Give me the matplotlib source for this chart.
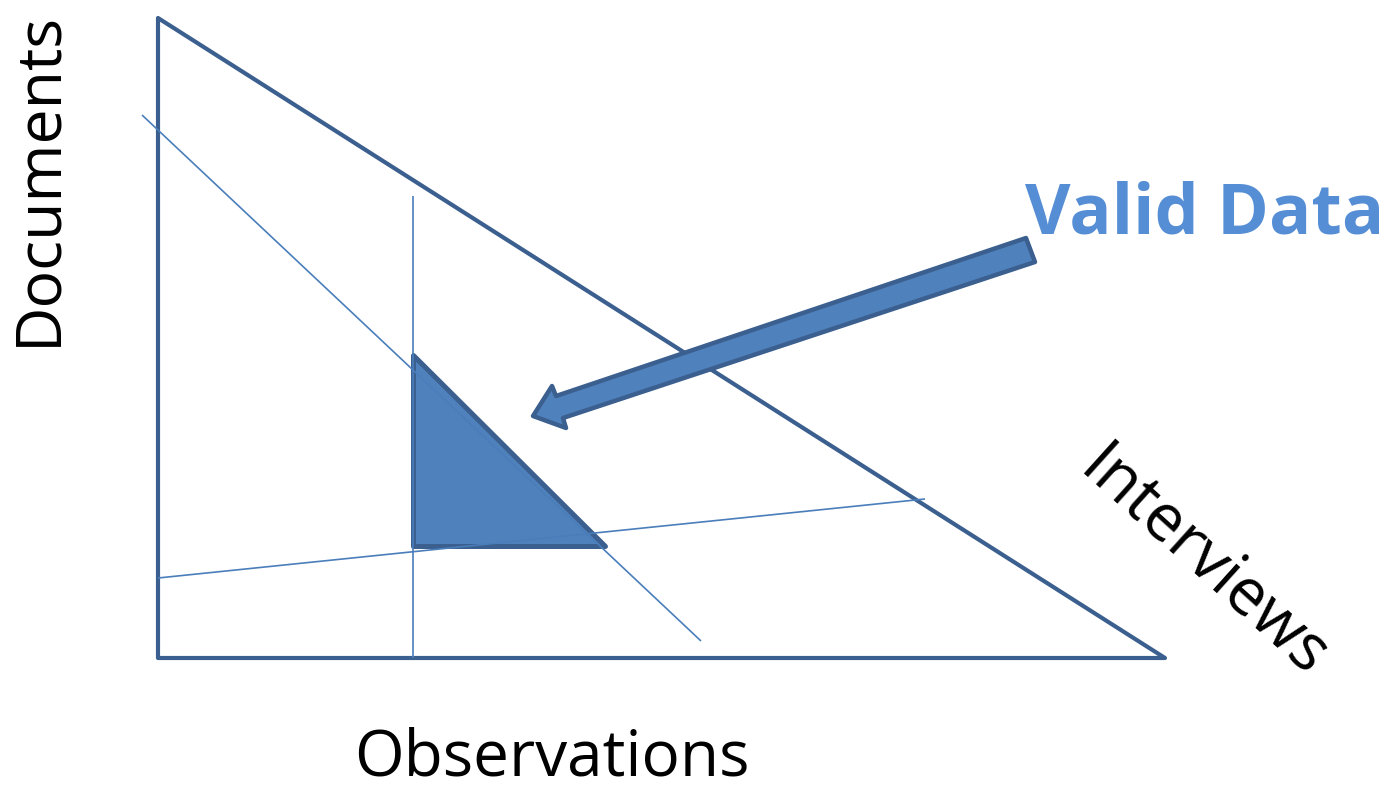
import matplotlib
matplotlib.use("Agg")
import matplotlib.pyplot as plt
from matplotlib.patches import Polygon

W, H = 1399, 793

# Diagram geometry (pixel coordinates, y down)
outer_triangle_x = [158, 158, 1165]
outer_triangle_y = [18, 658, 658]
diag_line_x = [142, 701]
diag_line_y = [115, 641]
vert_line_x = [413, 413]
vert_line_y = [196, 658]
horiz_line_x = [158, 925]
horiz_line_y = [578, 499]
valid_triangle_x = [413, 413, 605]
valid_triangle_y = [355, 546, 546]
arrow_x = [1026, 1035, 563, 566, 533, 552, 556]
arrow_y = [238, 262, 418, 428, 416, 386, 396]

labels = ["Documents", "Observations", "Interviews", "Valid Data"]

dark = "#3B5F8E"
mid = "#4A7EBB"
fill = "#4F81BD"
textblue = "#558ED5"

fig = plt.figure(figsize=(W / 100, H / 100), dpi=100)
ax = fig.add_axes([0, 0, 1, 1])
ax.set_xlim(0, W)
ax.set_ylim(H, 0)
ax.axis("off")

# thin lines
ax.plot(diag_line_x, diag_line_y, color=mid, lw=1.2, solid_capstyle="butt")
ax.plot(vert_line_x, vert_line_y, color=mid, lw=1.2, solid_capstyle="butt")
ax.plot(horiz_line_x, horiz_line_y, color=mid, lw=1.2, solid_capstyle="butt")

# outer triangle
ax.add_patch(Polygon(list(zip(outer_triangle_x, outer_triangle_y)), closed=True,
                     fill=False, edgecolor=dark, lw=3.0, joinstyle="round"))

# valid data triangle
ax.add_patch(Polygon(list(zip(valid_triangle_x, valid_triangle_y)), closed=True,
                     facecolor=fill, edgecolor=dark, lw=3.6, joinstyle="round"))

# arrow
ax.add_patch(Polygon(list(zip(arrow_x, arrow_y)), closed=True,
                     facecolor=fill, edgecolor=dark, lw=3.2, joinstyle="round", zorder=5))

font = "Open Sans"
ax.text(39, 178, labels[0], rotation=90, ha="center", va="center",
        fontsize=45, family=font, color="black", rotation_mode="anchor")
ax.text(552, 759, labels[1], ha="center", va="center",
        fontsize=46, family=font, color="black")
ax.text(1203, 563, labels[2], rotation=-42, ha="center", va="center",
        fontsize=46.5, family=font, color="black", rotation_mode="anchor")
ax.text(1205, 215, labels[3], ha="center", va="center",
        fontsize=50.5, family=font, weight="bold", color=textblue)

fig.savefig("out.png", dpi=100)
